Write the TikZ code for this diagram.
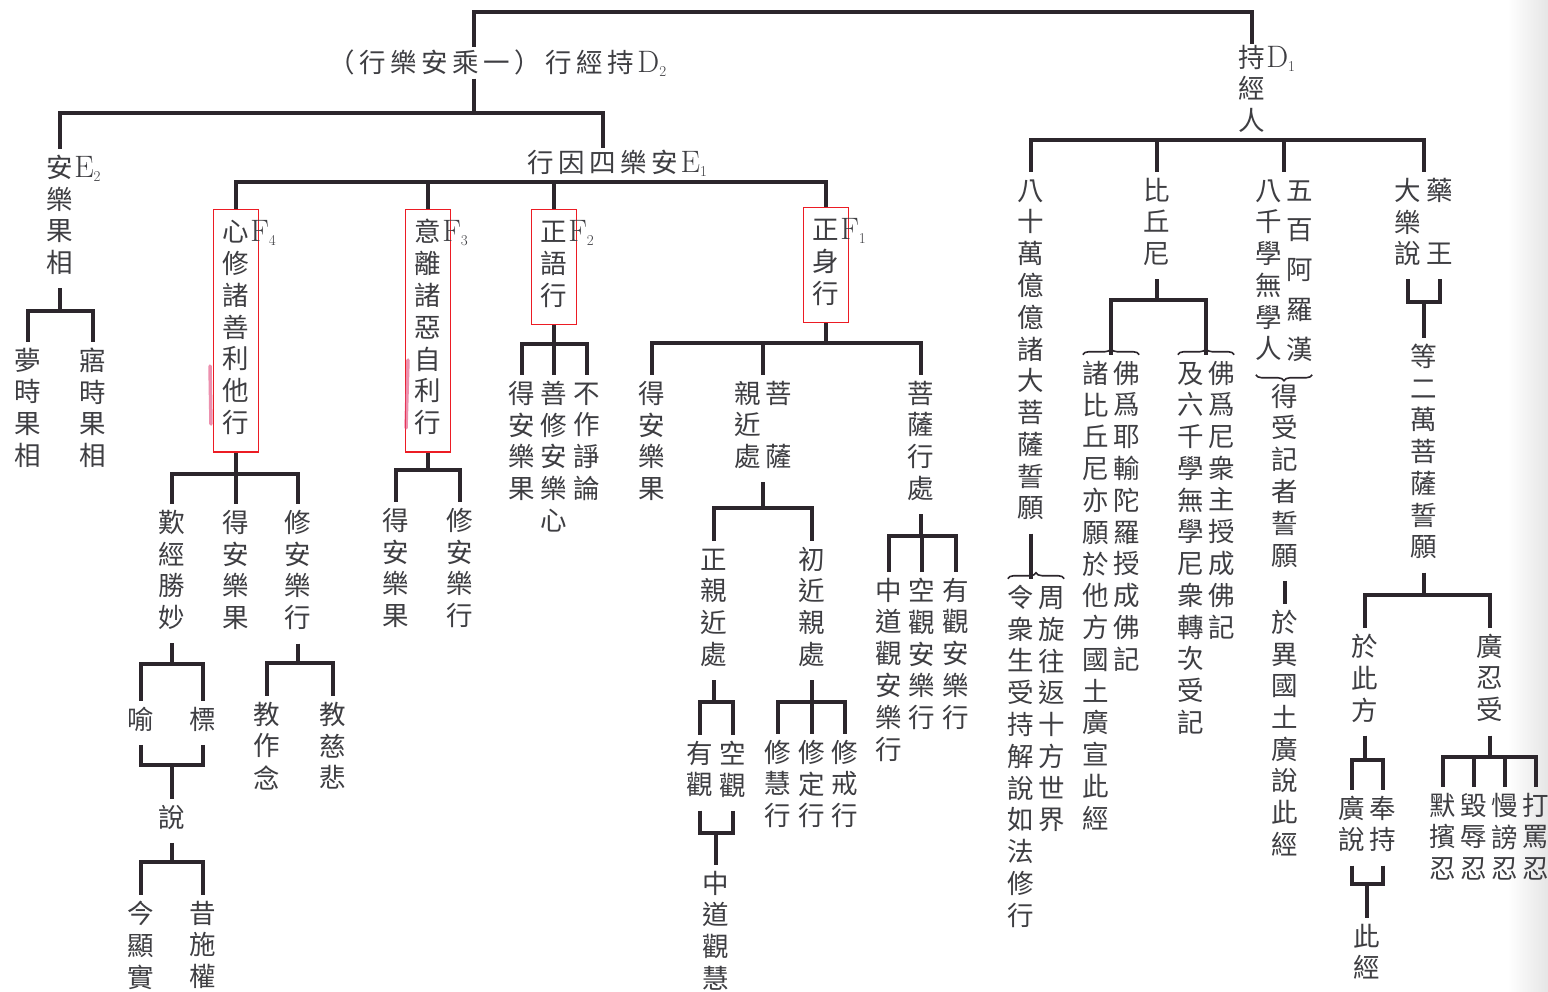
\documentclass[tikz,border=0pt]{standalone}
\usepackage{fontspec}
\newfontfamily\cjkfont{Noto Sans CJK TC}
\usetikzlibrary{
    positioning,
    calc,
    decorations.pathreplacing
}
\definecolor{inkgray}{RGB}{62, 62, 66}
\definecolor{linedark}{RGB}{44, 38, 44}
\definecolor{boxred}{RGB}{236, 28, 36}
\definecolor{markpink}{RGB}{226, 70, 120}

% one character per row
\ExplSyntaxOn
\seq_new:N \g_chart_chars_seq
\NewDocumentCommand \chars { m m }
  {
    \seq_gclear:N \g_chart_chars_seq
    \tl_map_inline:nn {#2} { \seq_gput_right:Nn \g_chart_chars_seq {##1} }
    \seq_use:Nn \g_chart_chars_seq {#1}
  }
\ExplSyntaxOff
\newcommand\vcol[1]{\begin{tabular}[t]{@{}c@{}}\chars{\\}{#1}\end{tabular}}
\newcommand\vcolwide[1]{\begin{tabular}[t]{@{}c@{}}\chars{\\[8pt]}{#1}\end{tabular}}
\newcommand\vcolF[2]{\begin{tabular}[t]{@{}c@{}}#1\\\chars{\\}{#2}\end{tabular}}
\newcommand\hrow[1]{\chars{\hspace{4.5pt}}{#1}}
\newcommand\subx[2]{\textrm{\fontsize{31}{31}\selectfont #1\raisebox{-4pt}{\fontsize{15}{15}\selectfont #2}}}
\newcommand\sub[2]{\rlap{\hspace{1pt}\subx{#1}{#2}}}

\tikzset{
    vnode/.style={anchor=north, inner xsep=3pt, inner ysep=#1, yshift=12.3pt+#1,
        font=\cjkfont\fontsize{26.5}{31.7}\selectfont, text=inkgray},
    vnode/.default=6pt,
    fbox/.style={vnode=10pt, draw=boxred, line width=1.4pt, inner xsep=9pt},
    hnode/.style={inner sep=2pt, font=\cjkfont\fontsize{26.5}{31.7}\selectfont, text=inkgray},
    branch/.style={draw=linedark, line width=3.8pt},
    curly/.style={decorate, decoration={brace, amplitude=6pt}, draw=linedark, line width=1.6pt},
    pinkmark/.style={draw=markpink, line width=3.5pt, opacity=0.6, line cap=round}
}

\begin{document}
\begin{tikzpicture}[x=1pt, y=-1pt]
    \fill[white] (0,0) rectangle (1548,991);
    \useasboundingbox (0,0) rectangle (1548,991);
    \shade[left color=white, right color=black!10] (1508,0) rectangle (1548,991);

    % Top level
    \coordinate (top) at (863,12);
    \node[hnode] (d2) at (497.5,63) {\hrow{（行樂安乘一）行經持}\hspace{3pt}\subx{D}{2}};
    \node[vnode=1pt] (d1) at (1252,57) {\vcolF{持\sub{D}{1}}{經人}};
    \coordinate (d2in) at ([xshift=-23.5pt]d2.north);
    \coordinate (d2out) at ([xshift=-23.5pt]d2.south);

    % D2 branch
    \node[vnode] (e2) at (60,167) {\vcolF{安\sub{E}{2}}{樂果相}};
    \node[hnode] (e1) at (617,163) {\hrow{行因四樂安}\hspace{3pt}\subx{E}{1}};
    \coordinate (e1in) at ([xshift=-14pt]e1.north);
    \node[vnode] (e2a) at (28,360) {\vcol{夢時果相}};
    \node[vnode] (e2b) at (93,360) {\vcol{寤時果相}};

    \node[fbox] (f4) at (236,231) {\vcolF{心\sub{F}{4}}{修諸善利他行}};
    \node[fbox] (f3) at (428,231) {\vcolF{意\sub{F}{3}}{離諸惡自利行}};
    \node[fbox] (f2) at (554,231) {\vcolF{正\sub{F}{2}}{語行}};
    \node[fbox] (f1) at (826,229) {\vcolF{正\sub{F}{1}}{身行}};

    % F4
    \node[vnode] (tanjing) at (172,522) {\vcol{歎經勝妙}};
    \node[vnode] (f4guo) at (236,522) {\vcol{得安樂果}};
    \node[vnode] (f4xing) at (298,522) {\vcol{修安樂行}};
    \node[vnode] (yu) at (141,719) {\vcol{喻}};
    \node[vnode] (biao) at (203,719) {\vcol{標}};
    \node[vnode] (shuo) at (172,817) {\vcol{說}};
    \node[vnode] (jin) at (141,913) {\vcol{今顯實}};
    \node[vnode] (xi) at (203,913) {\vcol{昔施權}};
    \node[vnode] (zuonian) at (267,714) {\vcol{教作念}};
    \node[vnode] (cibei) at (333,714) {\vcol{教慈悲}};

    % F3
    \node[vnode] (f3guo) at (396,520) {\vcol{得安樂果}};
    \node[vnode] (f3xing) at (460,520) {\vcol{修安樂行}};

    % F2
    \node[vnode] (f2guo) at (522,393) {\vcol{得安樂果}};
    \node[vnode] (f2xin) at (554,393) {\vcol{善修安樂心}};
    \node[vnode] (f2lun) at (587,393) {\vcol{不作諍論}};

    % F1
    \node[vnode] (f1guo) at (652,393) {\vcol{得安樂果}};
    \node[vnode] (qinjin) at (763,393) {\vcol{親近處}\hspace{4pt}\vcol{菩~薩}};
    \node[vnode] (xingchu) at (921,393) {\vcol{菩薩行處}};
    \node[vnode] (zhengqin) at (714,559) {\vcol{正親近處}};
    \node[vnode] (chujin) at (812,559) {\vcol{初近親處}};
    \node[vnode] (youguan) at (700,753) {\vcol{有觀}};
    \node[vnode] (kongguan) at (733,753) {\vcol{空觀}};
    \node[vnode] (zhongdao) at (716,883) {\vcol{中道觀慧}};
    \node[vnode] (xiuhui) at (778,752) {\vcol{修慧行}};
    \node[vnode] (xiuding) at (812,752) {\vcol{修定行}};
    \node[vnode] (xiujie) at (845,752) {\vcol{修戒行}};
    \node[vnode] (zdal) at (889,590) {\vcol{中道觀安樂行}};
    \node[vnode] (kgal) at (922,590) {\vcol{空觀安樂行}};
    \node[vnode] (ygal) at (956,590) {\vcol{有觀安樂行}};

    % D1 branch
    \node[vnode] (ba) at (1031,190) {\vcol{八十萬億億諸大菩薩誓願}};
    \node[vnode] (zhou) at (1036,597) {\vcol{令衆生受持解說如法修行}\hspace{5pt}\vcol{周旋往返十方世界}};
    \node[vnode] (bqn) at (1157,190) {\vcol{比丘尼}};
    \node[vnode] (bqa) at (1111,373) {\vcol{諸比丘尼亦願於他方國土廣宣此經}\hspace{5pt}\vcol{佛爲耶輸陀羅授成佛記}};
    \node[vnode] (bqb) at (1206,373) {\vcol{及六千學無學尼衆轉次受記}\hspace{5pt}\vcol{佛爲尼衆主授成佛記}};
    \node[vnode] (wubai) at (1284,190) {\vcol{八千學無學人}\hspace{5pt}\vcolwide{五百阿羅漢}};
    \node[vnode] (shouji) at (1285,396) {\vcol{得受記者誓願}};
    \node[vnode] (yiguo) at (1285,622) {\vcol{於異國土廣說此經}};
    \coordinate (pairtop) at (1424,172);
    \node[vnode] (dals) at (1408,190) {\vcol{大樂說}};
    \node[vnode] (yaow) at (1440,190) {\vcol{藥~王}};
    \node[vnode] (erwan) at (1424,356) {\vcol{等二萬菩薩誓願}};
    \node[vnode] (cifang) at (1365,646) {\vcol{於此方}};
    \node[vnode] (renshou) at (1490,646) {\vcol{廣忍受}};
    \node[vnode] (guangshuo) at (1352,808) {\vcol{廣說}};
    \node[vnode] (fengchi) at (1383,808) {\vcol{奉持}};
    \node[vnode] (cijing) at (1367,936) {\vcol{此經}};
    \node[vnode] (mobin) at (1443,805) {\vcol{默擯忍}};
    \node[vnode] (huiru) at (1474,805) {\vcol{毀辱忍}};
    \node[vnode] (manbang) at (1505,805) {\vcol{慢謗忍}};
    \node[vnode] (dama) at (1536,805) {\vcol{打罵忍}};

    % Connectors
    \draw[branch] (top) -| (d2in);
    \draw[branch] (top) -| (d1.north);
    \draw[branch] (d2out) -- (d2out |- 0,113) -| (e2.north);
    \draw[branch] (d2out |- 0,113) -| (e1in);
    \draw[branch] (e2.south) -- (e2.south |- 0,311) -| (e2a.north);
    \draw[branch] (e2.south |- 0,311) -| (e2b.north);
    \draw[branch] (e1.south |- 0,182) -| (f4.north);
    \draw[branch] (e1.south |- 0,182) -| (f3.north);
    \draw[branch] (e1.south |- 0,182) -| (f2.north);
    \draw[branch] (e1.south |- 0,182) -| (f1.north);

    \draw[branch] (f4.south) -- (f4.south |- 0,474) -| (tanjing.north);
    \draw[branch] (f4.south |- 0,474) -| (f4guo.north);
    \draw[branch] (f4.south |- 0,474) -| (f4xing.north);
    \draw[branch] (tanjing.south) -- (tanjing.south |- 0,664) -| (yu.north);
    \draw[branch] (tanjing.south |- 0,664) -| (biao.north);
    \draw[branch] (yu.south) -- (yu.south |- 0,765) -| (shuo.north);
    \draw[branch] (biao.south) -- (biao.south |- 0,765) -| (shuo.north);
    \draw[branch] (shuo.south) -- (shuo.south |- 0,862) -| (jin.north);
    \draw[branch] (shuo.south |- 0,862) -| (xi.north);
    \draw[branch] (f4xing.south) -- (f4xing.south |- 0,663) -| (zuonian.north);
    \draw[branch] (f4xing.south |- 0,663) -| (cibei.north);

    \draw[branch] (f3.south) -- (f3.south |- 0,470) -| (f3guo.north);
    \draw[branch] (f3.south |- 0,470) -| (f3xing.north);

    \draw[branch] (f2.south) -- (f2.south |- 0,344) -| (f2guo.north);
    \draw[branch] (f2.south |- 0,344) -| (f2xin.north);
    \draw[branch] (f2.south |- 0,344) -| (f2lun.north);

    \draw[branch] (f1.south) -- (f1.south |- 0,343) -| (f1guo.north);
    \draw[branch] (f1.south |- 0,343) -| (qinjin.north);
    \draw[branch] (f1.south |- 0,343) -| (xingchu.north);
    \draw[branch] (qinjin.south) -- (qinjin.south |- 0,508) -| (zhengqin.north);
    \draw[branch] (qinjin.south |- 0,508) -| (chujin.north);
    \draw[branch] (zhengqin.south) -- (zhengqin.south |- 0,702) -| (youguan.north);
    \draw[branch] (zhengqin.south |- 0,702) -| (kongguan.north);
    \draw[branch] (youguan.south) -- (youguan.south |- 0,833) -| (zhongdao.north);
    \draw[branch] (kongguan.south) -- (kongguan.south |- 0,833) -| (zhongdao.north);
    \draw[branch] (chujin.south) -- (chujin.south |- 0,702) -| (xiuhui.north);
    \draw[branch] (chujin.south |- 0,702) -| (xiuding.north);
    \draw[branch] (chujin.south |- 0,702) -| (xiujie.north);
    \draw[branch] (xingchu.south) -- (xingchu.south |- 0,536) -| (zdal.north);
    \draw[branch] (xingchu.south |- 0,536) -| (kgal.north);
    \draw[branch] (xingchu.south |- 0,536) -| (ygal.north);

    \draw[branch] (d1.south) -- (d1.south |- 0,140) -| (ba.north);
    \draw[branch] (d1.south |- 0,140) -| (bqn.north);
    \draw[branch] (d1.south |- 0,140) -| (wubai.north);
    \draw[branch] (d1.south |- 0,140) -| (pairtop);
    \draw[branch] (ba.south) -- (ba.south |- zhou.north);
    \draw[branch] (bqn.south) -- (bqn.south |- 0,300) -| (bqa.north);
    \draw[branch] (bqn.south |- 0,300) -| (bqb.north);
    \draw[branch] (shouji.south) -- (yiguo.north);
    \draw[branch] (dals.south) -- (dals.south |- 0,302) -| (erwan.north);
    \draw[branch] (yaow.south) -- (yaow.south |- 0,302) -| (erwan.north);
    \draw[branch] (erwan.south) -- (erwan.south |- 0,595) -| (cifang.north);
    \draw[branch] (erwan.south |- 0,595) -| (renshou.north);
    \draw[branch] (cifang.south) -- (cifang.south |- 0,760) -| (guangshuo.north);
    \draw[branch] (cifang.south |- 0,760) -| (fengchi.north);
    \draw[branch] (guangshuo.south) -- (guangshuo.south |- 0,884) -| (cijing.north);
    \draw[branch] (fengchi.south) -- (fengchi.south |- 0,884) -| (cijing.north);
    \draw[branch] (renshou.south) -- (renshou.south |- 0,757) -| (mobin.north);
    \draw[branch] (renshou.south |- 0,757) -| (huiru.north);
    \draw[branch] (renshou.south |- 0,757) -| (manbang.north);
    \draw[branch] (renshou.south |- 0,757) -| (dama.north);

    % Braces
    \draw[curly] ([xshift=4pt]zhou.north west) -- ([xshift=-4pt]zhou.north east);
    \draw[curly] ([xshift=4pt]bqa.north west) -- ([xshift=-4pt]bqa.north east);
    \draw[curly] ([xshift=4pt]bqb.north west) -- ([xshift=-4pt]bqb.north east);
    \draw[curly] ([xshift=-4pt]wubai.south east) -- ([xshift=4pt]wubai.south west);

    % Pen marks
    \draw[pinkmark] (210,366) -- (211,424);
    \draw[pinkmark] (408,360) -- (406,428);
\end{tikzpicture}
\end{document}
